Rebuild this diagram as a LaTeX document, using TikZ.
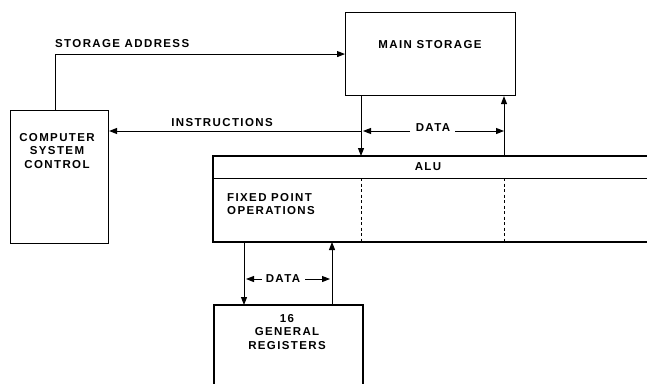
\documentclass[tikz,border=0pt]{standalone}
\usepackage{fontspec}
\setmainfont{Liberation Sans}[LetterSpace=12]
\usetikzlibrary{arrows.meta}
\begin{document}
\begin{tikzpicture}[x=1pt,y=-1pt,
  box/.style={draw,line width=1.1pt,inner sep=0pt},
  lbl/.style={font=\bfseries\fontsize{11.5}{13.5}\selectfont, inner sep=0pt, align=center},
  wire/.style={line width=1pt},
  tip/.style={wire,-{Triangle[length=8pt,width=6pt]}},
  dsh/.style={line width=1pt,dash pattern=on 3pt off 2.5pt}
]
\useasboundingbox (0,0) rectangle (647,383);
% boxes
\node[box, minimum width=98pt, minimum height=133pt, anchor=north west] (csc) at (10,110) {};
\node[box, minimum width=170pt, minimum height=83pt, anchor=north west] (ms) at (345,12) {};
% ALU (open to the right)
\coordinate (alutl) at (213,156);
\coordinate (alubl) at (213,242);
\coordinate (alumid) at (213,178);
\draw[wire,line width=1.1pt] (648,156) -- (alutl) -- (alubl) -- (648,242);
\draw[wire] (alumid) -- (648,178);
\draw[dsh] (361,178) -- (361,242);
\draw[dsh] (504,178) -- (504,242);
% registers (open at the bottom)
\coordinate (regtl) at (214,305);
\coordinate (regtr) at (363,305);
\draw[wire,line width=1.1pt] (214,384) -- (regtl) -- (regtr) -- (363,384);
% texts
\node[lbl] (tcsc) at (57,151) {COMPUTER\\SYSTEM\\CONTROL};
\node[lbl] (tms) at (430,45) {MAIN STORAGE};
\node[lbl, anchor=west] (tsa) at (55,44) {STORAGE ADDRESS};
\node[lbl] (tins) at (222,123) {INSTRUCTIONS};
\node[lbl] (dtop) at (433,128) {DATA};
\node[lbl] (talu) at (428,167) {ALU};
\node[lbl, anchor=west, align=left] (tfp) at (227,204) {FIXED POINT\\OPERATIONS};
\node[lbl] (dbot) at (283,279) {DATA};
\node[lbl] (treg) at (287,332) {16\\GENERAL\\REGISTERS};
% connectors
\coordinate (sa) at (55,110);
\draw[tip] (sa) |- (ms.west);
\coordinate (ad) at (361,156);
\coordinate (au) at (504,156);
\draw[tip] (ms.south -| ad) -- (ad);
\draw[tip] (au) -- (ms.south -| au);
\coordinate (hl) at (433,131);
\draw[tip] ([xshift=-23pt]hl) -- ([xshift=2pt]ad |- hl);
\draw[tip] ([xshift=22pt]hl) -- (au |- hl);
\draw[tip] (ad |- hl) -- (csc.east |- hl);
\coordinate (bd) at (244,242);
\coordinate (bu) at (332,242);
\draw[tip] (bd) -- (bd |- regtl);
\draw[tip] (bu |- regtl) -- (bu);
\coordinate (hb) at (283,279);
\draw[tip] ([xshift=-21pt]hb) -- ([xshift=2pt]bd |- hb);
\draw[tip] ([xshift=22pt]hb) -- ([xshift=-2pt]bu |- hb);
\end{tikzpicture}
\end{document}
